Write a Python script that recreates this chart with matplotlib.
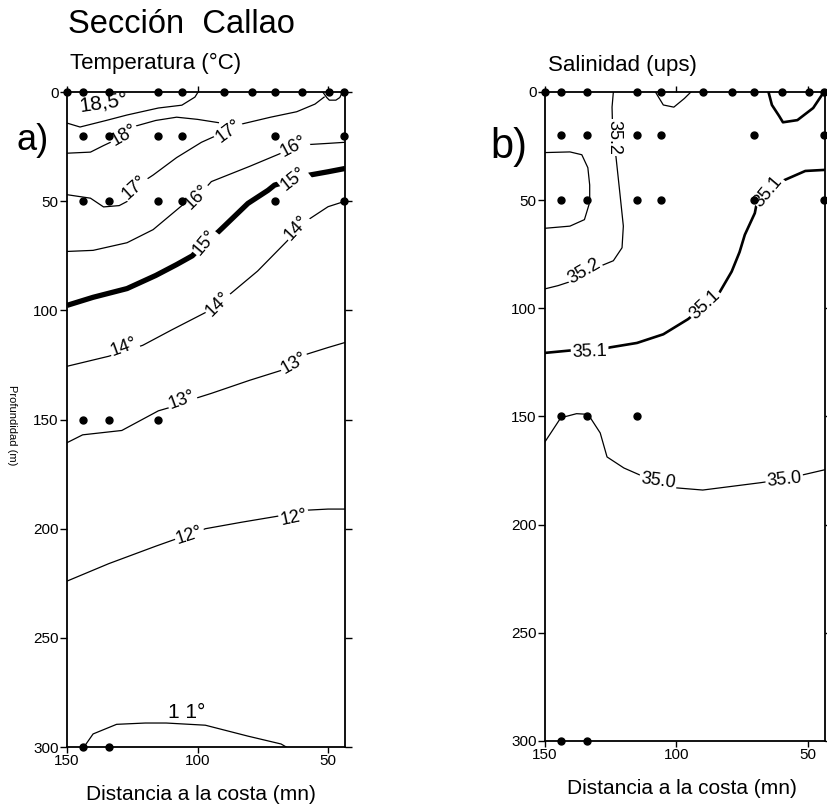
import numpy as np
import matplotlib
matplotlib.use("Agg")
import matplotlib.pyplot as plt

plt.rcParams['font.family'] = ['Liberation Sans', 'DejaVu Sans']

# station grid (distance to coast in nm, depth in m)
st_surface = [150, 144, 134, 115, 106, 90, 79, 70.5, 60, 49.5, 44]
st_mid = [144, 134, 115, 106, 70.5, 44]
st_150 = [144, 134, 115]
st_300 = [144, 134]

# temperature isolines (distance, depth)
t185_d = [150, 145, 135, 127, 115, 106, 101, 99.8]
t185_z = [14.2, 16, 13, 10.5, 7.3, 6, 2.3, 0]
t18_d = [150, 141, 136, 128, 125, 116, 108, 100, 92]
t18_z = [28, 27.5, 24.5, 20, 16, 13, 11.5, 12.5, 14]
t17_d = [150, 141, 136, 130, 126, 124, 117, 108, 98.5, 92, 88, 82.6, 72, 62, 55, 51.5]
t17_z = [47, 48.6, 52.6, 52, 49.5, 43.5, 38, 30, 23, 19.5, 17.5, 14.5, 11.5, 9, 5.5, 2.3]
t_loop_d = [52, 50.5, 49.5, 47, 45.5, 44.5]
t_loop_z = [0, 2.5, 3.7, 3.7, 2.5, 0]
t16_d = [150, 140, 127, 117, 106, 100, 94.7, 80, 68, 63, 57, 50, 43.5]
t16_z = [73, 72.5, 69, 63, 52, 48, 41, 34, 28, 25, 24, 23.5, 23]
t15_d = [150, 140, 127, 116, 108, 102, 97, 92, 80.7, 73, 70.5, 63, 57, 50, 43.5]
t15_z = [97.7, 94, 90, 84, 79, 75, 69, 64, 51, 45, 42.6, 40, 38, 36.5, 35]
t14_d = [150, 134, 121, 110, 97, 92, 87, 77, 65.5, 62, 57, 50, 43.5]
t14_z = [125.6, 121, 116, 109, 101, 97, 92, 82, 68, 62, 58, 52.5, 50]
t13_d = [150, 144, 129, 115, 106.4, 100, 94.7, 80, 68, 63, 58, 50, 43.5]
t13_z = [160.6, 157, 155, 146, 143, 140, 138, 132, 127.5, 124, 120, 117, 114.7]
t12_d = [150, 134, 116, 108, 103, 97, 83, 68, 63, 58, 50, 43.5]
t12_z = [224, 216, 208, 204.6, 203, 200, 197, 194, 193, 191.5, 191, 191]
t11_d = [143.5, 140, 131, 120, 112, 97, 80.7, 68, 66]
t11_z = [300, 294, 289.6, 289, 289, 290, 295, 298.6, 300]

# temperature labels: text, distance, depth, angle
t_lab_txt = ['18,5°', '18°', '17°', '17°', '16°', '16°', '15°', '15°',
             '14°', '14°', '14°', '13°', '13°', '12°', '12°']
t_lab_d = [136, 128, 124, 88, 100, 63, 97, 63, 62, 92, 128, 63, 106, 63, 103]
t_lab_z = [5, 20, 43.5, 18, 48, 25, 69, 40, 62, 97, 117, 124, 141, 195, 203]
t_lab_rot = [8, 30, 42, 37, 45, 28, 50, 38, 47, 45, 20, 30, 20, 12, 18]

# salinity isolines
s352_d = [124, 124.5, 124.2, 123, 121.5, 120.2, 120.7, 124, 129, 135, 140, 145, 150]
s352_z = [0, 7, 21, 30, 47, 62, 72, 78, 80.5, 84, 87.5, 89.5, 91]
s352_left_d = [150, 140.5, 136, 133.7, 133, 133, 135, 140.5, 150]
s352_left_z = [28, 27.7, 29, 35, 43, 51, 59, 62, 63]
s_top_d = [108, 105, 101, 97, 94.5]
s_top_z = [0, 6, 7, 3, 0]
s351_top_d = [65, 63.7, 61, 59.5, 54, 48, 44.7, 43.5]
s351_top_z = [0, 6, 11, 14, 13, 7.4, 1.4, 0]
s351_d = [43.5, 51, 60.6, 65, 69.4, 70.2, 74, 76, 79, 83.5, 89, 95.6, 105, 115, 125, 133, 140.5, 150]
s351_z = [36, 36.5, 41.6, 46, 51, 56, 66, 74, 83, 92.4, 98.5, 105, 112, 116, 118, 120, 119.5, 120.6]
s350_d = [150, 144, 138, 133.6, 129, 126.4, 120, 114, 107, 100, 90, 68, 59, 52, 43.5]
s350_z = [161.7, 150.6, 148.7, 149, 157.6, 168.7, 173.8, 177, 180, 183, 184, 180.6, 179, 177, 174.6]

s_lab_txt = ['35.2', '35.2', '35.1', '35.1', '35.1', '35.0', '35.0']
s_lab_d = [124, 135, 65, 89, 133, 107, 59]
s_lab_z = [21, 83, 46, 98.5, 120, 180, 179]
s_lab_rot = [-90, 30, 50, 43, 2, -8, 6]

fig = plt.figure(figsize=(8.27, 8.07), dpi=100)
ax1 = fig.add_axes([0.0810, 0.0743, 0.3362, 0.8116])
ax2 = fig.add_axes([0.6590, 0.0818, 0.3386, 0.8042])

lbl_box = dict(boxstyle='square,pad=0.08', fc='white', ec='none')


def frame(ax):
    ax.set_xlim(150, 43.5)
    ax.set_ylim(300, 0)
    ax.set_xticks([150, 100, 50])
    ax.set_yticks([0, 50, 100, 150, 200, 250, 300])
    ax.tick_params(axis='y', direction='out', length=5, width=1, labelsize=11, pad=1)
    ax.tick_params(axis='x', direction='out', length=4, width=1, labelsize=11, pad=1)
    ax.tick_params(axis='x', top=True, labeltop=False)
    ax.tick_params(axis='y', right=True, labelright=False)
    for sp in ax.spines.values():
        sp.set_linewidth(1.3)
    ax.plot(st_surface, [0] * len(st_surface), 'o', color='k', ms=5, clip_on=False, zorder=5)
    ax.plot(st_mid, [20] * len(st_mid), 'o', color='k', ms=5, clip_on=False, zorder=5)
    ax.plot(st_mid, [50] * len(st_mid), 'o', color='k', ms=5, clip_on=False, zorder=5)
    ax.plot(st_150, [150] * len(st_150), 'o', color='k', ms=5, clip_on=False, zorder=5)
    ax.plot(st_300, [300] * len(st_300), 'o', color='k', ms=5, clip_on=False, zorder=5)


frame(ax1)
frame(ax2)

# panel a - temperature
thin = dict(color='k', lw=0.9, zorder=2)
for d, z in [(t185_d, t185_z), (t18_d, t18_z), (t17_d, t17_z), (t_loop_d, t_loop_z),
             (t16_d, t16_z), (t14_d, t14_z), (t13_d, t13_z), (t12_d, t12_z), (t11_d, t11_z)]:
    ax1.plot(d, z, **thin)
ax1.plot(t15_d, t15_z, color='k', lw=3.8, zorder=2, solid_capstyle='butt')

for txt, d, z, r in zip(t_lab_txt, t_lab_d, t_lab_z, t_lab_rot):
    fs = 15 if txt == '18,5°' else 13
    box = None if txt == '18,5°' else lbl_box
    ax1.text(d, z, txt, rotation=r, rotation_mode='anchor', ha='center', va='center',
             fontsize=fs, bbox=box, zorder=4)
ax1.text(104, 284, '1 1°', ha='center', va='center', fontsize=15, zorder=4)

# panel b - salinity
for d, z in [(s352_d, s352_z), (s352_left_d, s352_left_z), (s_top_d, s_top_z), (s350_d, s350_z)]:
    ax2.plot(d, z, **thin)
ax2.plot(s351_d, s351_z, color='k', lw=1.9, zorder=2)
ax2.plot(s351_top_d, s351_top_z, color='k', lw=1.9, zorder=2)

for txt, d, z, r in zip(s_lab_txt, s_lab_d, s_lab_z, s_lab_rot):
    ax2.text(d, z, txt, rotation=r, rotation_mode='anchor', ha='center', va='center',
             fontsize=13, bbox=lbl_box, zorder=4)

# titles and labels
W, H = 827, 807
fig.text(68 / W, 1 - 33 / H, 'Sección  Callao', fontsize=23.5, va='baseline')
fig.text(70 / W, 1 - 69 / H, 'Temperatura (°C)', fontsize=16, va='baseline')
fig.text(548 / W, 1 - 71 / H, 'Salinidad (ups)', fontsize=16, va='baseline')
fig.text(16 / W, 1 - 150 / H, 'a)', fontsize=26, va='baseline')
fig.text(490 / W, 1 - 158 / H, 'b)', fontsize=30, va='baseline')
fig.text(12 / W, 1 - 425 / H, 'Profundidad (m)', fontsize=8, rotation=270,
         ha='center', va='center')
fig.text(201 / W, 1 - 800 / H, 'Distancia a la costa (mn)', fontsize=15, ha='center', va='baseline')
fig.text(682 / W, 1 - 794 / H, 'Distancia a la costa (mn)', fontsize=15, ha='center', va='baseline')

fig.savefig('out.png', dpi=100)
